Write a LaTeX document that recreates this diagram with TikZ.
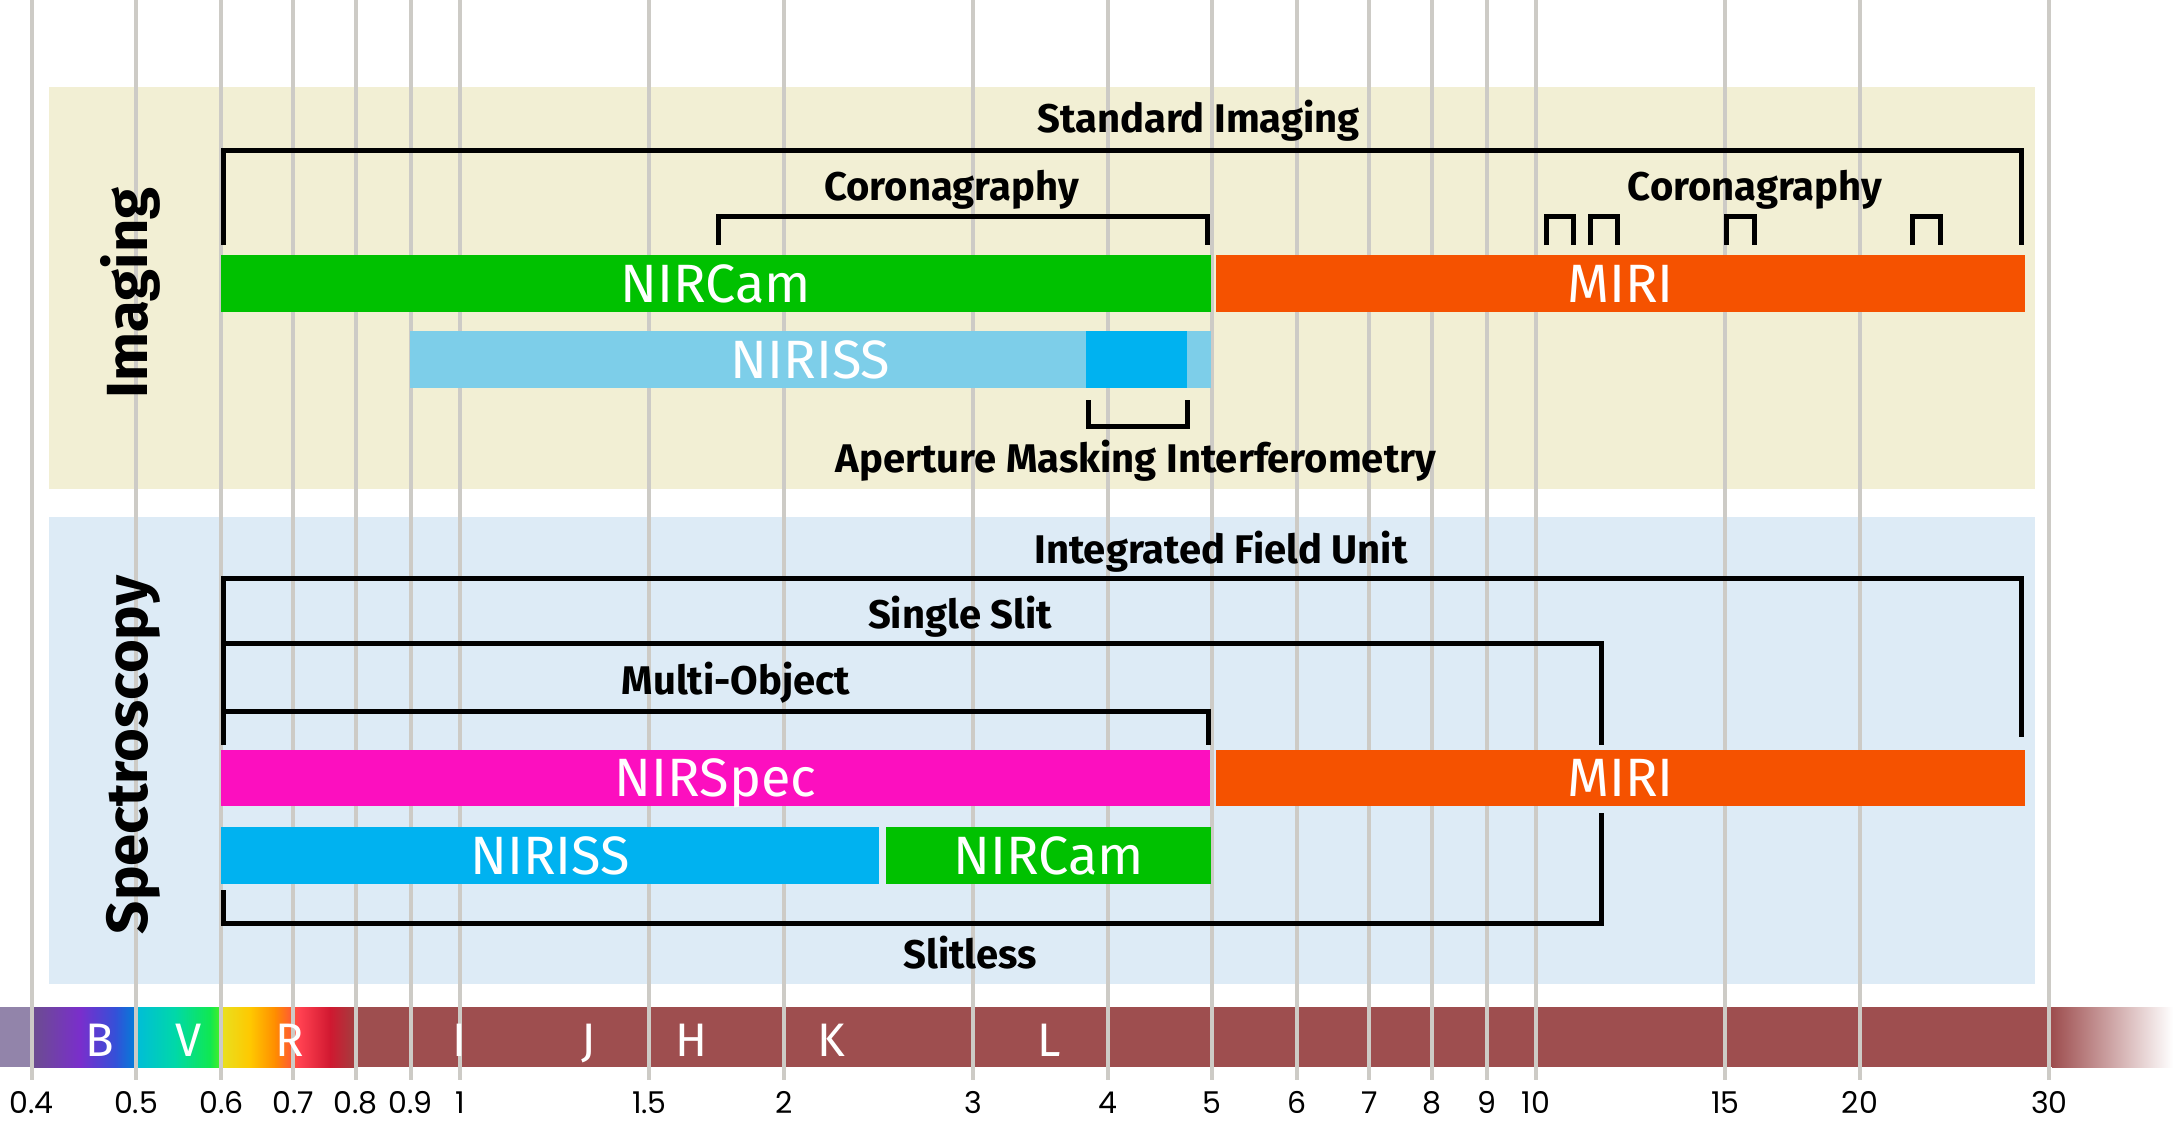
\documentclass[tikz,border=0pt]{standalone}
\usepackage{fontspec}
\setmainfont{Fira Sans}
\newfontfamily\axisfont{Poppins}
\definecolor{panelimg}{HTML}{F2EFD4}
\definecolor{panelspec}{HTML}{DDEBF6}
\definecolor{gridgray}{HTML}{CDCBC6}
\definecolor{cgreen}{HTML}{00C100}
\definecolor{corange}{HTML}{F55200}
\definecolor{cmagenta}{HTML}{FC0FBF}
\definecolor{cblue}{HTML}{00B2F0}
\definecolor{clightblue}{HTML}{7DCEE9}
\definecolor{maroon}{HTML}{9E4E4F}
\definecolor{s0}{HTML}{9284AA}
\definecolor{s1}{HTML}{6B4E8E}
\definecolor{s2}{HTML}{7A2ECC}
\definecolor{s3}{HTML}{3450D8}
\definecolor{s4}{HTML}{0080D8}
\definecolor{s5}{HTML}{00BDD8}
\definecolor{s6}{HTML}{00D8A8}
\definecolor{s7}{HTML}{10E850}
\definecolor{s8}{HTML}{50F020}
\definecolor{s9}{HTML}{E8E020}
\definecolor{s10}{HTML}{FFC800}
\definecolor{s11}{HTML}{FF8C00}
\definecolor{s12}{HTML}{FF4050}
\definecolor{s13}{HTML}{D01830}
\definecolor{s14}{HTML}{A04040}
\tikzset{
  gridline/.style={draw=gridgray, line width=4pt},
  barbox/.style={inner sep=0pt, outer sep=0pt, anchor=north west, text=white,
    font=\fontsize{54}{60}\selectfont, text height=37pt, text depth=0pt},
  bracket/.style={draw=black, line width=5pt, line join=miter},
  lab/.style={font=\fontsize{40}{48}\selectfont\bfseries, anchor=base, inner sep=0pt},
  sidelab/.style={font=\fontsize{58}{64}\selectfont\bfseries, anchor=base, inner sep=0pt, rotate=90},
  bandlab/.style={font=\fontsize{47}{52}\selectfont, text=white, anchor=base, inner sep=0pt},
  axlab/.style={font=\axisfont\fontsize{30}{34}\selectfont, anchor=base, inner sep=0pt,
    text height=22pt, text depth=0pt}
}
\begin{document}
\begin{tikzpicture}[x=1pt,y=-1pt]
\useasboundingbox (0,0) rectangle (2173,1121);
% panels
\fill[panelimg] (49,87) rectangle (2035,489);
\fill[panelspec] (49,517) rectangle (2035,984);
% spectrum bar
\fill[s0] (0,1007) rectangle (32.5,1067);
\fill[left color=s1, right color=s2] (31.5,1007) rectangle (80.5,1067);
\fill[left color=s2, right color=s3] (80,1007) rectangle (115.5,1067);
\fill[left color=s3, right color=s4] (115,1007) rectangle (136.5,1067);
\fill[left color=s5, right color=s6] (136,1007) rectangle (175.5,1067);
\fill[left color=s6, right color=s7] (175,1007) rectangle (210.5,1067);
\fill[left color=s7, right color=s8] (210,1007) rectangle (221.5,1067);
\fill[left color=s9, right color=s10] (221,1007) rectangle (250.5,1067);
\fill[left color=s10, right color=s11] (250,1007) rectangle (275.5,1067);
\fill[left color=s11, right color=s12] (275,1007) rectangle (300.5,1067);
\fill[left color=s12, right color=s13] (300,1007) rectangle (330.5,1067);
\fill[left color=s13, right color=s14] (330,1007) rectangle (356.5,1067);
\fill[maroon] (356,1007) rectangle (2052.5,1067);
\fill[left color=maroon, right color=white] (2052,1007) rectangle (2173,1067);
% grid lines and axis labels
\foreach \l [count=\i] in {0.4,0.5,0.6,0.7,0.8,0.9,1,1.5,2,3,4,5,6,7,8,9,10,15,20,30}{
  \pgfmathsetmacro\xx{460+1076*log10(\l)}
  \draw[gridline] (\xx,0) -- (\xx,1080);
  \node[axlab] (ax\i) at (\xx,1113) {\l};
}
% band letters
\foreach \b/\bx [count=\i] in {B/100,V/189,R/290,I/459,J/589,H/691,K/831,L/1049}{
  \node[bandlab] (band\i) at (\bx,1056) {\b};
}
% imaging bars
\node[barbox, fill=cgreen, minimum width=990pt, minimum height=57pt] (nircamI) at (221,255) {NIRCam};
\node[barbox, fill=corange, minimum width=809pt, minimum height=57pt] (miriI) at (1216,255) {MIRI};
\node[barbox, fill=clightblue, minimum width=801pt, minimum height=57pt] (nirissI) at (410,331) {NIRISS};
\node[barbox, fill=cblue, minimum width=101pt, minimum height=57pt] (ami) at (1086,331) {};
% spectroscopy bars
\node[barbox, fill=cmagenta, minimum width=989pt, minimum height=56pt] (nirspec) at (221,750) {NIRSpec};
\node[barbox, fill=corange, minimum width=809pt, minimum height=56pt] (miriS) at (1216,750) {MIRI};
\node[barbox, fill=cblue, minimum width=658pt, minimum height=57pt] (nirissS) at (221,827) {NIRISS};
\node[barbox, fill=cgreen, minimum width=325pt, minimum height=57pt] (nircamS) at (886,827) {NIRCam};
% imaging brackets
\draw[bracket] (223,245) -- (223,150) -- (2021,150) -- (2021,245);
\draw[bracket] (718,245) -- (718,216) -- (1207,216) -- (1207,245);
\foreach \a/\b in {1546/1573,1590/1617,1726/1754,1912/1940}{
  \draw[bracket] (\a,245) -- (\a,216) -- (\b,216) -- (\b,245);
}
\draw[bracket] (1088,400) -- (1088,426) -- (1187,426) -- (1187,400);
% spectroscopy brackets
\draw[bracket] (223,745) -- (223,578) -- (2021,578) -- (2021,737);
\draw[bracket] (223,643) -- (1601,643) -- (1601,745);
\draw[bracket] (223,711) -- (1208,711) -- (1208,745);
\draw[bracket] (223,890) -- (223,923) -- (1601,923) -- (1601,813);
% labels
\node[lab] (stdimg) at (1198.5,133) {Standard Imaging};
\node[lab] (coroL) at (951.5,200) {Coronagraphy};
\node[lab] (coroR) at (1755,200) {Coronagraphy};
\node[lab] (amilab) at (1136,472) {Aperture Masking Interferometry};
\node[lab] (ifu) at (1221,563) {Integrated Field Unit};
\node[lab] (slit) at (960,628) {Single Slit};
\node[lab] (mos) at (736,694) {Multi-Object};
\node[lab] (slitless) at (970,968) {Slitless};
\node[sidelab] (imaging) at (147,293) {Imaging};
\node[sidelab] (spectro) at (147,755) {Spectroscopy};
\end{tikzpicture}
\end{document}
